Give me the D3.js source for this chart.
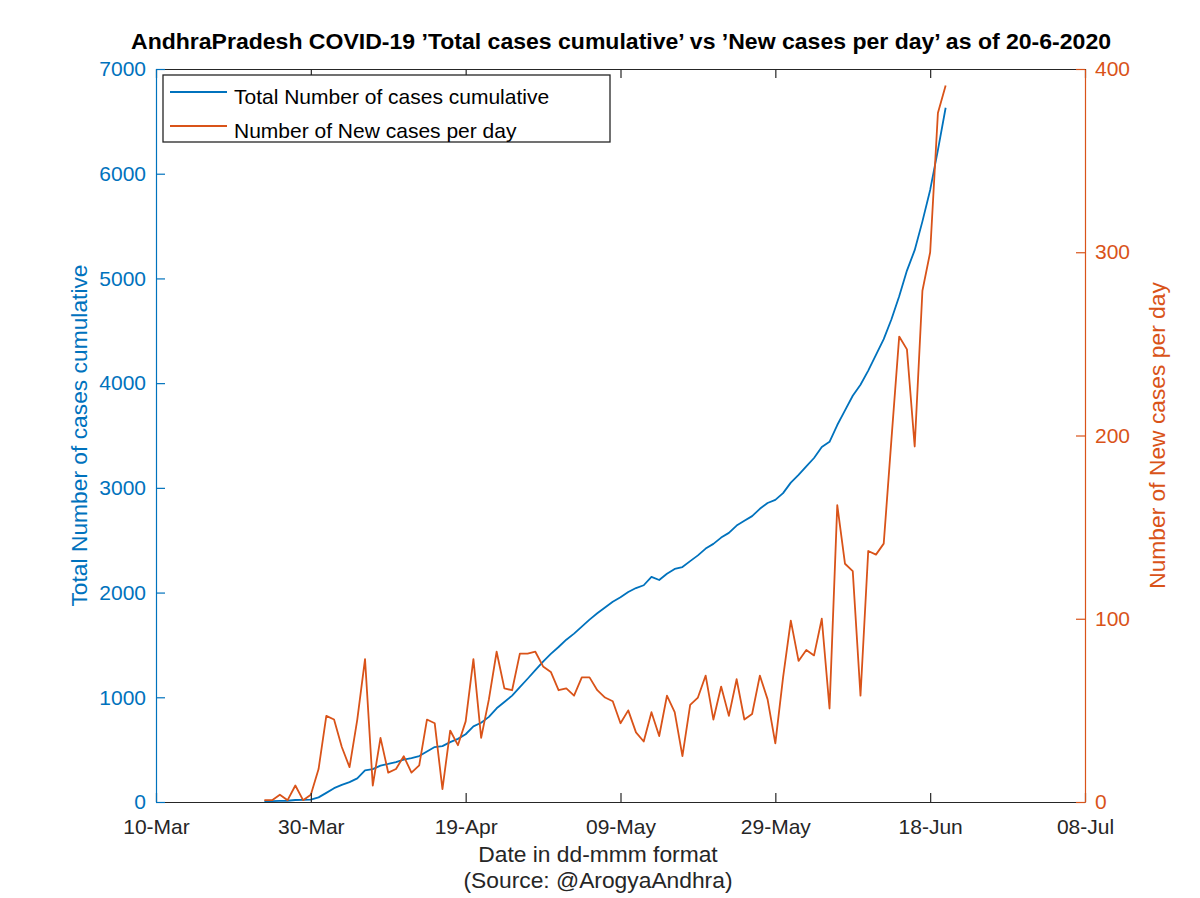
<!DOCTYPE html>
<html><head><meta charset="utf-8">
<script src="https://cdn.jsdelivr.net/npm/d3@7"></script>
<style>
body{margin:0;background:#fff;}
text{font-family:"Liberation Sans",Arial,Helvetica,sans-serif;}
</style>
</head><body>
<svg id="c" width="1200" height="898"></svg>
<script>
// ---- data ----
const dates = [
"2020-03-24","2020-03-25","2020-03-26","2020-03-27","2020-03-28","2020-03-29","2020-03-30","2020-03-31",
"2020-04-01","2020-04-02","2020-04-03","2020-04-04","2020-04-05","2020-04-06","2020-04-07","2020-04-08","2020-04-09","2020-04-10",
"2020-04-11","2020-04-12","2020-04-13","2020-04-14","2020-04-15","2020-04-16","2020-04-17","2020-04-18","2020-04-19","2020-04-20",
"2020-04-21","2020-04-22","2020-04-23","2020-04-24","2020-04-25","2020-04-26","2020-04-27","2020-04-28","2020-04-29","2020-04-30",
"2020-05-01","2020-05-02","2020-05-03","2020-05-04","2020-05-05","2020-05-06","2020-05-07","2020-05-08","2020-05-09","2020-05-10",
"2020-05-11","2020-05-12","2020-05-13","2020-05-14","2020-05-15","2020-05-16","2020-05-17","2020-05-18","2020-05-19","2020-05-20",
"2020-05-21","2020-05-22","2020-05-23","2020-05-24","2020-05-25","2020-05-26","2020-05-27","2020-05-28","2020-05-29","2020-05-30","2020-05-31",
"2020-06-01","2020-06-02","2020-06-03","2020-06-04","2020-06-05","2020-06-06","2020-06-07","2020-06-08","2020-06-09","2020-06-10",
"2020-06-11","2020-06-12","2020-06-13","2020-06-14","2020-06-15","2020-06-16","2020-06-17","2020-06-18","2020-06-19","2020-06-20"
];
const totalCases = [
8, 9, 11, 12, 19, 21, 23, 44,
87, 132, 164, 190, 226, 303, 314, 348, 363, 381,
405, 420, 439, 483, 525, 534, 572, 603, 647, 722,
757, 813, 895, 955, 1016, 1097, 1177, 1259, 1340, 1415,
1480, 1550, 1608, 1675, 1742, 1802, 1858, 1912, 1955, 2005,
2043, 2070, 2150, 2120, 2180, 2226, 2244, 2300, 2355, 2420,
2465, 2525, 2570, 2640, 2685, 2730, 2800, 2855, 2885, 2950, 3050,
3125, 3205, 3285, 3390, 3440, 3600, 3740, 3880, 3985, 4120,
4270, 4420, 4610, 4830, 5075, 5270, 5545, 5845, 6225, 6630
];
const newCases = [
1, 1, 4, 1, 9, 1, 4, 18,
47, 45, 30, 19, 45, 78, 9, 35, 16, 18,
25, 16, 20, 45, 43, 7, 39, 31, 44, 78,
35, 56, 82, 62, 61, 81, 81, 82, 74, 71,
61, 62, 58, 68, 68, 61, 57, 55, 43, 50,
38, 33, 49, 36, 58, 49, 25, 53, 57, 69,
45, 63, 47, 67, 45, 48, 69, 56, 32, 68, 99,
77, 83, 80, 100, 51, 162, 130, 126, 58, 137,
135, 141, 198, 254, 247, 194, 279, 300, 376, 391
];
const xTickDates = ["2020-03-10","2020-03-30","2020-04-19","2020-05-09","2020-05-29","2020-06-18","2020-07-08"];
const leftTicks = [0,1000,2000,3000,4000,5000,6000,7000];
const rightTicks = [0,100,200,300,400];
const seriesNames = ["Total Number of cases cumulative","Number of New cases per day"];
const titleText = "AndhraPradesh COVID-19 \u2019Total cases cumulative\u2019 vs \u2019New cases per day\u2019 as of 20-6-2020";

// ---- layout ----
const W = 1200, H = 898;
const L = 156, R = 1085, T = 69, B = 802;
const BLUE = "#0072BD", ORANGE = "#D95319", AX = "#262626";
const parse = d3.timeParse("%Y-%m-%d");
const svg = d3.select("#c");
svg.append("rect").attr("width",W).attr("height",H).attr("fill","#fff");

const x = d3.scaleTime().domain([parse(xTickDates[0]), parse(xTickDates[xTickDates.length-1])]).range([L,R]);
const yL = d3.scaleLinear().domain([0,7000]).range([B,T]);
const yR = d3.scaleLinear().domain([0,400]).range([B,T]);

const totalData = dates.map((d,i)=>({date:parse(d), v:totalCases[i]}));
const newData = dates.map((d,i)=>({date:parse(d), v:newCases[i]}));

// lines
svg.append("path").datum(totalData)
  .attr("fill","none").attr("stroke",BLUE).attr("stroke-width",1.8).attr("stroke-linejoin","round")
  .attr("d", d3.line().x(d=>x(d.date)).y(d=>yL(d.v)));
svg.append("path").datum(newData)
  .attr("fill","none").attr("stroke",ORANGE).attr("stroke-width",1.8).attr("stroke-linejoin","round")
  .attr("d", d3.line().x(d=>x(d.date)).y(d=>yR(d.v)));

function styleAxis(g, color){
  g.selectAll(".domain").attr("stroke",color).attr("stroke-width",1.2);
  g.selectAll(".tick line").attr("stroke",color).attr("stroke-width",1.2);
  g.selectAll(".tick text").attr("fill",color).style("font-size","21px")
    .style("font-family",'"Liberation Sans",Arial,sans-serif');
}

// bottom axis
const gx = svg.append("g").attr("transform",`translate(0,${B})`)
  .call(d3.axisBottom(x).tickValues(xTickDates.map(parse)).tickFormat(d3.timeFormat("%d-%b"))
    .tickSizeInner(-9).tickSizeOuter(0).tickPadding(17));
styleAxis(gx, AX);
// top axis (box)
const gt = svg.append("g").attr("transform",`translate(0,${T})`)
  .call(d3.axisTop(x).tickValues(xTickDates.map(parse)).tickFormat("")
    .tickSizeInner(-9).tickSizeOuter(0));
styleAxis(gt, AX);
// left axis
const gl = svg.append("g").attr("transform",`translate(${L},0)`)
  .call(d3.axisLeft(yL).tickValues(leftTicks).tickFormat(d3.format("d"))
    .tickSizeInner(-9).tickSizeOuter(0).tickPadding(10));
styleAxis(gl, BLUE);
// right axis
const gr = svg.append("g").attr("transform",`translate(${R},0)`)
  .call(d3.axisRight(yR).tickValues(rightTicks).tickFormat(d3.format("d"))
    .tickSizeInner(-9).tickSizeOuter(0).tickPadding(10));
styleAxis(gr, ORANGE);

// title
svg.append("text").attr("x",131).attr("y",49)
  .attr("textLength",980).attr("lengthAdjust","spacingAndGlyphs")
  .style("font-size","22px").style("font-weight","bold").attr("fill","#000")
  .text(titleText);

// axis labels
svg.append("text").attr("transform","translate(87,435.5) rotate(-90)")
  .attr("text-anchor","middle").attr("fill",BLUE).style("font-size","22.8px")
  .text(seriesNames[0]);
svg.append("text").attr("transform","translate(1165,435.5) rotate(-90)")
  .attr("text-anchor","middle").attr("fill",ORANGE).style("font-size","22.8px")
  .text(seriesNames[1]);
svg.append("text").attr("x",598).attr("y",862).attr("text-anchor","middle")
  .attr("fill",AX).style("font-size","22.8px").text("Date in dd-mmm format");
svg.append("text").attr("x",598).attr("y",888).attr("text-anchor","middle")
  .attr("fill",AX).style("font-size","22.8px").text("(Source: @ArogyaAndhra)");

// legend
const lg = svg.append("g");
lg.append("rect").attr("x",163).attr("y",75).attr("width",447).attr("height",67)
  .attr("fill","#fff").attr("stroke",AX).attr("stroke-width",1.3);
const legColors = [BLUE, ORANGE];
seriesNames.forEach((name,i)=>{
  const ly = 92 + i*34;
  lg.append("line").attr("x1",170).attr("x2",227).attr("y1",ly).attr("y2",ly)
    .attr("stroke",legColors[i]).attr("stroke-width",1.8);
  lg.append("text").attr("x",234).attr("y",ly+11.5).attr("fill","#000")
    .style("font-size","21px").text(name);
});
</script>
</body></html>
